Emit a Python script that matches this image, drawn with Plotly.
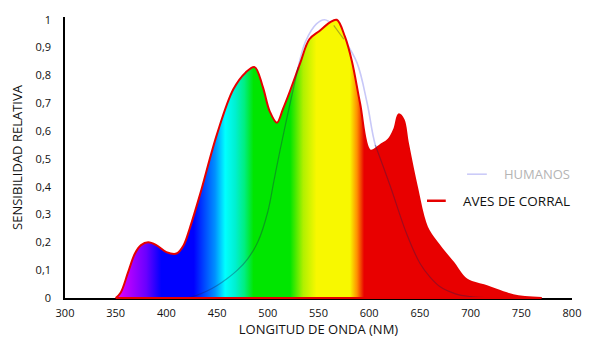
import numpy as np
import plotly.graph_objects as go

# Relative spectral sensitivity (wavelength in nm)
poultry_wl = [350, 355, 362, 369, 375, 382, 390, 400, 410, 417, 423, 433, 450, 466,
              478, 487, 495, 502, 509, 515, 522, 532, 541, 551, 561, 568, 576, 583,
              591, 601, 611, 619, 625, 629, 634, 638, 647, 657, 670, 683, 696, 716,
              742, 770]
poultry_val = [0.0, 0.02, 0.09, 0.16, 0.19, 0.20, 0.19, 0.165, 0.16, 0.19, 0.25, 0.37,
               0.59, 0.75, 0.81, 0.83, 0.76, 0.67, 0.63, 0.68, 0.745, 0.845, 0.93,
               0.96, 0.99, 1.0, 0.94, 0.85, 0.70, 0.53, 0.55, 0.57, 0.61, 0.66, 0.64,
               0.56, 0.40, 0.255, 0.185, 0.127, 0.067, 0.042, 0.01, 0.0]

human_wl = [420, 430, 440, 450, 460, 470, 480, 490, 500, 506, 512, 522, 530, 537,
            548, 556, 565, 575, 588, 598, 606, 621, 637, 650, 660, 670, 685, 700, 720]
human_val = [0.0, 0.01, 0.025, 0.045, 0.07, 0.10, 0.14, 0.20, 0.31, 0.42, 0.53, 0.70,
             0.83, 0.92, 0.985, 1.0, 0.98, 0.93, 0.845, 0.70, 0.55, 0.40, 0.23, 0.125,
             0.075, 0.04, 0.015, 0.005, 0.0]

x_ticks = [300, 350, 400, 450, 500, 550, 600, 650, 700, 750, 800]
y_ticks = [0, 0.1, 0.2, 0.3, 0.4, 0.5, 0.6, 0.7, 0.8, 0.9, 1]

# Visible-spectrum colours along the wavelength axis
spectrum_nm = [300, 352, 380, 395, 427, 448, 458, 468, 477, 486, 522, 535, 548, 581, 588, 595, 800]
spectrum_col = ["#e000ff", "#e000ff", "#6a00ff", "#0000ff", "#0000ff", "#0090ff",
                "#00ffff", "#00f0d0", "#00ee80", "#00e600", "#00e600", "#b0f000",
                "#f8f800", "#f8f800", "#ff9000", "#e80000", "#e80000"]

RED = "#e60000"
LAVENDER = "#c8c8f8"

x0, x1 = x_ticks[0], x_ticks[-1]
colorscale = [[(w - x0) / (x1 - x0), c] for w, c in zip(spectrum_nm, spectrum_col)]

fig = go.Figure()

# Human curve beneath the filled area (only shows where it rises above it)
fig.add_trace(go.Scatter(
    x=human_wl, y=human_val, mode="lines", line=dict(color=LAVENDER, width=1.6, shape="spline"),
    hoverinfo="skip", showlegend=False))

# Poultry sensitivity filled with the spectrum
fig.add_trace(go.Scatter(
    x=poultry_wl, y=poultry_val, mode="lines", fill="tozeroy",
    fillgradient=dict(type="horizontal", colorscale=colorscale, start=x0, stop=x1),
    line=dict(color=RED, width=2, shape="spline"), hoverinfo="skip", showlegend=False))

# Human curve seen through the coloured area
inside = np.array(human_val) <= np.interp(human_wl, poultry_wl, poultry_val) + 0.01
human_inside = [v if ok else None for v, ok in zip(human_val, inside)]
fig.add_trace(go.Scatter(
    x=human_wl, y=human_inside, mode="lines",
    line=dict(color="rgba(30,30,80,0.35)", width=1.2, shape="spline"),
    hoverinfo="skip", showlegend=False))

# Red baseline under the curve
fig.add_shape(type="line", xref="x", yref="paper", x0=poultry_wl[0], x1=poultry_wl[-1],
              y0=0, y1=0, line=dict(color=RED, width=2), layer="above")

# Legend keys
font = "Open Sans, Noto Sans, sans-serif"
fig.add_shape(type="line", xref="paper", yref="paper", x0=0.793, x1=0.832, y0=0.4406, y1=0.4406,
              line=dict(color=LAVENDER, width=1.5))
fig.add_shape(type="line", xref="paper", yref="paper", x0=0.714, x1=0.751, y0=0.346, y1=0.346,
              line=dict(color=RED, width=2.5))
fig.add_annotation(text="HUMANOS", xref="paper", yref="paper", x=1.0, y=0.4406,
                   xanchor="right", yanchor="middle", showarrow=False,
                   font=dict(family=font, size=13, color="#b4b4b4"))
fig.add_annotation(text="AVES DE CORRAL", xref="paper", yref="paper", x=1.0, y=0.346,
                   xanchor="right", yanchor="middle", showarrow=False,
                   font=dict(family=font, size=13.5, color="#111111"))

fig.update_layout(
    width=600, height=347,
    margin=dict(l=65, r=28, t=13, b=48),
    plot_bgcolor="white", paper_bgcolor="white",
    separators=",.",
    font=dict(family=font, size=11, color="#111111"),
    showlegend=False,
)
fig.update_xaxes(
    range=[x0, x1], tickvals=x_ticks, showgrid=False, zeroline=False,
    showline=True, linecolor="black", linewidth=1.5, ticks="", layer="below traces",
    ticklabelstandoff=4,
    title=dict(text="LONGITUD DE ONDA (NM)", font=dict(size=13), standoff=6),
)
fig.update_yaxes(
    range=[0, 1.01], tickvals=y_ticks, ticktext=[("%g" % v).replace(".", ",") for v in y_ticks],
    showgrid=False, zeroline=False,
    showline=True, linecolor="black", linewidth=1.5, ticks="", layer="below traces",
    ticklabelstandoff=10,
    title=dict(text="SENSIBILIDAD RELATIVA", font=dict(size=13), standoff=10),
)

fig.write_html("out.html")
